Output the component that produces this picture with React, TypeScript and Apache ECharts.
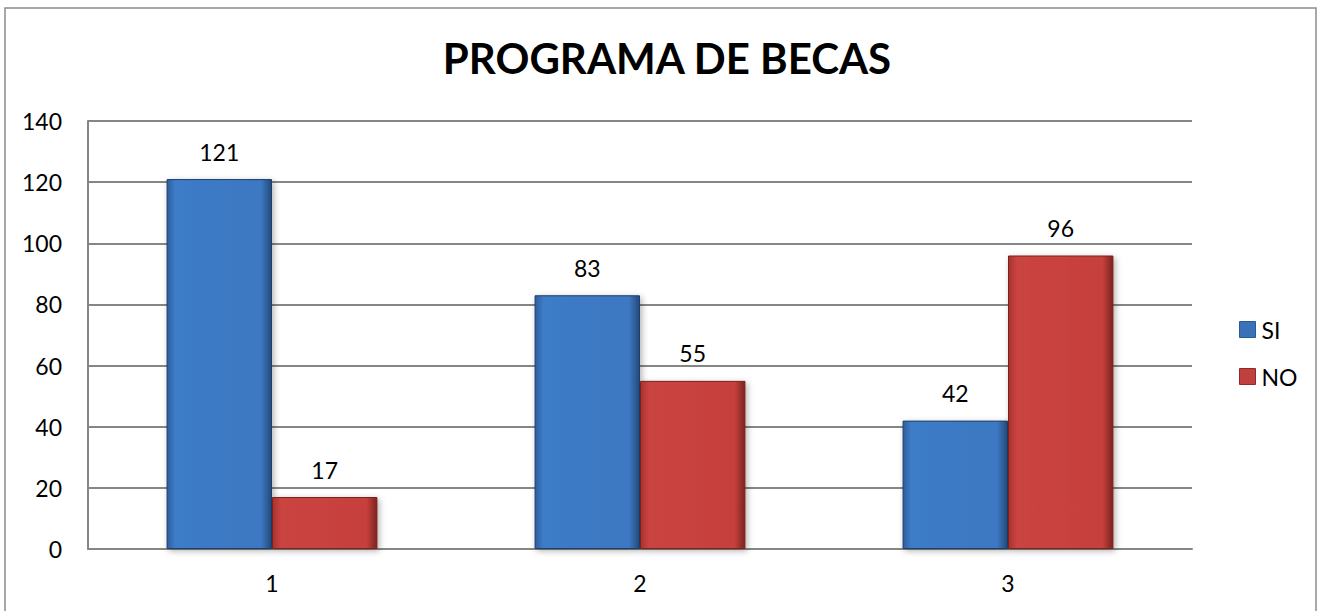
import React, { useEffect, useRef } from "react";
import * as echarts from "echarts";

const categories = ["1", "2", "3"];
const siValues = [121, 83, 42];
const noValues = [17, 55, 96];
const yTicks = { min: 0, max: 140, interval: 20 };
const title = "PROGRAMA DE BECAS";

const FONT = "Lato, 'Open Sans', sans-serif";

const blueFill = new echarts.graphic.LinearGradient(0, 0, 1, 0, [
  { offset: 0, color: "#2f5f9e" },
  { offset: 0.08, color: "#3e7bc6" },
  { offset: 0.9, color: "#3c78c2" },
  { offset: 1, color: "#24497a" },
]);
const redFill = new echarts.graphic.LinearGradient(0, 0, 1, 0, [
  { offset: 0, color: "#a83230" },
  { offset: 0.08, color: "#cb4441" },
  { offset: 0.9, color: "#c6403d" },
  { offset: 1, color: "#7f2220" },
]);

const labelStyle = {
  show: true,
  position: "top",
  distance: 16,
  fontFamily: FONT,
  fontSize: 23,
  color: "#000",
};

export default function App() {
  const ref = useRef<HTMLDivElement>(null);
  useEffect(() => {
    document.body.style.margin = "0";
    if (!ref.current) return;
    const chart = echarts.init(ref.current, null, { renderer: "svg" });
    chart.setOption({
      animation: false,
      backgroundColor: "#ffffff",
      title: {
        text: title,
        left: 662,
        textAlign: "center",
        top: 32,
        textStyle: { fontFamily: FONT, fontWeight: "bold", fontSize: 42, color: "#000" },
      },
      graphic: [
        {
          type: "rect",
          shape: { x: 5, y: 8, width: 1311, height: 640 },
          style: { fill: "none", stroke: "#8c8c8c", lineWidth: 1.5 },
          silent: true,
        },
      ],
      legend: {
        orient: "vertical",
        left: 1234,
        top: 313,
        itemWidth: 16,
        itemHeight: 16,
        itemGap: 24,
        icon: "rect",
        textStyle: { fontFamily: FONT, fontSize: 23, color: "#000", padding: [0, 0, 0, 1] },
        data: [
          { name: "SI", itemStyle: { color: "#3a72b8", borderColor: "#2a5a94", borderWidth: 1 } },
          { name: "NO", itemStyle: { color: "#c0403d", borderColor: "#8f2a28", borderWidth: 1 } },
        ],
      },
      grid: { left: 88, top: 121, right: 127, bottom: 62, containLabel: false },
      xAxis: {
        type: "category",
        data: categories,
        axisLine: { show: true, lineStyle: { color: "#868686", width: 2 } },
        axisTick: { show: false },
        axisLabel: { fontFamily: FONT, fontSize: 23, color: "#000", margin: 22 },
      },
      yAxis: {
        type: "value",
        min: yTicks.min,
        max: yTicks.max,
        interval: yTicks.interval,
        axisLine: { show: true, lineStyle: { color: "#868686", width: 2 } },
        axisTick: { show: false },
        splitLine: { show: true, lineStyle: { color: "#868686", width: 2 } },
        axisLabel: { fontFamily: FONT, fontSize: 23, color: "#000", margin: 26 },
      },
      series: [
        {
          name: "SI",
          type: "bar",
          data: siValues,
          barGap: "0%",
          barCategoryGap: "42.7%",
          itemStyle: {
            color: blueFill,
            borderColor: "#1f3f6b",
            borderWidth: 1,
            shadowColor: "rgba(0,0,0,0.3)",
            shadowBlur: 6,
            shadowOffsetX: 2,
            shadowOffsetY: 2,
          },
          label: labelStyle,
        },
        {
          name: "NO",
          type: "bar",
          data: noValues,
          barGap: "0%",
          barCategoryGap: "42.7%",
          itemStyle: {
            color: redFill,
            borderColor: "#7a201e",
            borderWidth: 1,
            shadowColor: "rgba(0,0,0,0.3)",
            shadowBlur: 6,
            shadowOffsetX: 2,
            shadowOffsetY: 2,
          },
          label: labelStyle,
        },
      ],
    });
    return () => chart.dispose();
  }, []);
  return <div ref={ref} style={{ width: 1319, height: 611 }} />;
}
